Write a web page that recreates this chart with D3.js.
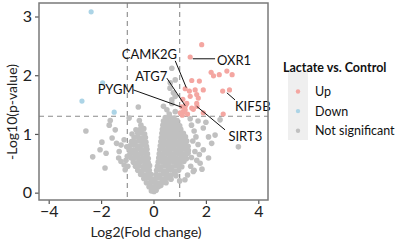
<!DOCTYPE html>
<html>
<head>
<meta charset="utf-8">
<script src="https://cdn.jsdelivr.net/npm/d3@7"></script>
<style>
  body { margin: 0; background: #fff; }
  svg { display: block; font-family: Lato, "Open Sans", sans-serif; }
</style>
</head>
<body>
<svg id="chart" width="400" height="244"></svg>
<script>
// log2 fold change / -log10 p for each protein
const notSig = [
  [-0.08, 0.03], [0.02, 0.02], [0.1, 0.04],
  [-0.17, 0.1], [-0.05, 0.09], [0.07, 0.11], [0.18, 0.1], [0.28, 0.12],
  [-0.27, 0.17], [-0.14, 0.16], [-0.02, 0.18], [0.11, 0.17], [0.24, 0.16], [0.37, 0.18], [0.48, 0.17],
  [-0.37, 0.24], [-0.23, 0.25], [-0.1, 0.23], [0.07, 0.24], [0.2, 0.25], [0.33, 0.23], [0.46, 0.24], [0.58, 0.25], [0.67, 0.23],
  [-0.49, 0.31], [-0.35, 0.3], [-0.21, 0.32], [-0.09, 0.31], [0.1, 0.31], [0.24, 0.3], [0.38, 0.32], [0.52, 0.31], [0.66, 0.3], [0.8, 0.32], [0.86, 0.29],
  [-0.6, 0.38], [-0.45, 0.37], [-0.3, 0.39], [-0.16, 0.38], [0.12, 0.38], [0.26, 0.39], [0.4, 0.37], [0.54, 0.38], [0.68, 0.39], [0.82, 0.37], [0.96, 0.38],
  [-0.69, 0.45], [-0.55, 0.46], [-0.41, 0.44], [-0.27, 0.45], [-0.15, 0.46], [0.15, 0.45], [0.29, 0.44], [0.43, 0.46], [0.57, 0.45], [0.71, 0.44], [0.85, 0.46], [0.98, 0.45], [1.08, 0.44],
  [-0.77, 0.52], [-0.63, 0.51], [-0.49, 0.53], [-0.34, 0.52], [-0.2, 0.51], [0.18, 0.52], [0.32, 0.53], [0.46, 0.51], [0.6, 0.52], [0.74, 0.53], [0.88, 0.51], [1.02, 0.52], [1.16, 0.53],
  [-0.85, 0.59], [-0.71, 0.6], [-0.56, 0.58], [-0.42, 0.59], [-0.28, 0.6], [-0.2, 0.58], [0.2, 0.59], [0.34, 0.6], [0.48, 0.58], [0.62, 0.59], [0.76, 0.6], [0.9, 0.58], [1.04, 0.59], [1.17, 0.6], [1.26, 0.58],
  [-0.9, 0.66], [-0.76, 0.67], [-0.62, 0.65], [-0.48, 0.66], [-0.34, 0.67], [-0.23, 0.66], [0.22, 0.66], [0.36, 0.65], [0.5, 0.67], [0.64, 0.66], [0.78, 0.65], [0.92, 0.67], [1.06, 0.66], [1.2, 0.65], [1.32, 0.67],
  [-0.92, 0.73], [-0.78, 0.72], [-0.64, 0.74], [-0.5, 0.73], [-0.37, 0.72], [-0.25, 0.74], [0.24, 0.73], [0.38, 0.74], [0.52, 0.72], [0.66, 0.73], [0.8, 0.74], [0.94, 0.72], [1.08, 0.73], [1.22, 0.74], [1.33, 0.72],
  [-0.9, 0.8], [-0.76, 0.81], [-0.62, 0.79], [-0.48, 0.8], [-0.36, 0.81], [-0.27, 0.79], [0.26, 0.8], [0.4, 0.81], [0.54, 0.79], [0.68, 0.8], [0.82, 0.81], [0.96, 0.79], [1.1, 0.8], [1.23, 0.81], [1.32, 0.79],
  [-0.84, 0.87], [-0.7, 0.86], [-0.56, 0.88], [-0.42, 0.87], [-0.29, 0.86], [0.28, 0.87], [0.42, 0.88], [0.56, 0.86], [0.7, 0.87], [0.84, 0.88], [0.98, 0.86], [1.12, 0.87], [1.27, 0.88],
  [-0.74, 0.94], [-0.6, 0.95], [-0.45, 0.93], [-0.31, 0.94], [0.3, 0.94], [0.44, 0.95], [0.58, 0.93], [0.72, 0.94], [0.86, 0.95], [1.0, 0.93], [1.12, 0.94], [1.22, 0.95],
  [-0.6, 1.01], [-0.46, 1.02], [-0.34, 1.0], [0.32, 1.01], [0.46, 1.02], [0.6, 1.0], [0.74, 1.01], [0.88, 1.02], [1.02, 1.0], [1.14, 1.01],
  [-0.5, 1.08], [-0.37, 1.09], [0.34, 1.08], [0.48, 1.09], [0.62, 1.07], [0.76, 1.08], [0.9, 1.09], [1.04, 1.08],
  [0.36, 1.15], [0.5, 1.16], [0.64, 1.14], [0.78, 1.15], [0.92, 1.16], [1.0, 1.14],
  [0.38, 1.22], [0.52, 1.23], [0.66, 1.21], [0.8, 1.22], [0.9, 1.23],
  [0.45, 1.28], [0.62, 1.29], [0.78, 1.27],
  [0.7, 2.12], [0.83, 1.92], [0.63, 1.78], [0.64, 1.87], [0.76, 1.7], [0.83, 1.64], [0.7, 1.58],
  [0.7, 1.52], [0.51, 1.41], [0.83, 1.38], [0.38, 1.47], [0.6, 1.34],
  [-0.58, 1.46], [-0.93, 1.27], [-0.54, 1.23], [-0.48, 1.15], [-0.67, 1.07], [-0.82, 1.0],
  [-1.69, 1.15], [-1.65, 1.23], [-1.46, 1.07], [-2.58, 1.05], [-1.58, 0.93], [-1.97, 0.86],
  [-2.04, 0.73], [-2.32, 0.61], [-1.81, 0.67], [-1.85, 0.42], [-1.41, 0.84], [-1.24, 0.81],
  [-1.31, 0.7], [-1.33, 0.59], [-1.24, 0.53], [-1.12, 0.47], [-1.08, 0.39], [-1.12, 0.9],
  [-1.02, 0.78], [-1.0, 0.62], [-1.05, 0.55], [-0.98, 0.45],
  [1.45, 1.15], [1.55, 1.05], [1.62, 0.95], [1.5, 0.88], [1.7, 0.82], [1.58, 0.7], [1.75, 0.65],
  [1.45, 0.6], [1.65, 0.55], [1.42, 0.45], [1.55, 0.38], [1.3, 0.3], [1.2, 0.22], [1.0, 0.2],
  [1.9, 0.73], [2.1, 0.95], [2.22, 0.84], [2.35, 0.98], [2.1, 0.59], [1.78, 0.5], [1.52, 0.36],
  [2.54, 1.24], [3.24, 0.78], [1.9, 1.1], [2.0, 1.2], [1.7, 1.22], [1.4, 1.26], [1.85, 0.4]
]

const down = [[-2.38, 3.08], [-1.94, 1.87], [-2.73, 1.56], [-1.5, 1.37]]

const up = [
  [1.84, 2.52], [1.4, 2.31], [2.2, 2.05], [2.29, 1.99], [2.51, 2.01], [2.8, 2.07], [3.0, 2.01],
  [2.64, 1.73], [2.9, 1.75], [1.46, 1.91], [1.75, 1.9], [1.21, 1.77], [1.37, 1.73], [1.59, 1.75],
  [1.9, 1.75], [1.65, 1.67], [1.71, 1.61], [1.4, 1.64], [1.12, 1.59], [1.27, 1.52], [1.08, 1.46],
  [1.21, 1.41], [1.22, 1.48], [1.46, 1.44], [1.66, 1.47], [2.66, 1.34], [1.52, 1.42], [1.14, 1.38],
  [1.02, 1.36], [1.65, 1.52], [1.3, 1.34], [1.9, 1.36], [1.1, 1.32]
]

// labelled proteins: point, label anchor and leader start (data units)
const genes = ['CAMK2G', 'OXR1', 'ATG7', 'PYGM', 'KIF5B', 'SIRT3']
const genePoint = [[1.25, 1.79], [1.5, 2.28], [1.21, 1.48], [1.08, 1.455], [2.8, 1.7], [1.65, 1.47]]
const geneLabel = [[-1.21, 2.36], [2.42, 2.26], [-0.7, 1.98], [-2.13, 1.77], [3.11, 1.48], [2.86, 0.97]]
const geneLead = [[0.83, 2.245], [2.35, 2.28], [0.51, 1.95], [-0.77, 1.75], [3.11, 1.58], [2.73, 1.07]]

const xTicks = [-4, -2, 0, 2, 4]
const yTicks = [0, 1, 2, 3]
const fcCut = [-1, 1]
const pCut = -Math.log10(0.05)

const groups = ['Up', 'Down', 'Not significant']
const groupColors = ['#f4a6a1', '#acd4e6', '#c0c0c0']

const svg = d3.select('#chart')
const panel = { left: 39, top: 3, right: 268, bottom: 200 }

const x = d3.scaleLinear().domain([-4.37, 4.37]).range([panel.left, panel.right])
const y = d3.scaleLinear().domain([-0.125, 3.23]).range([panel.bottom, panel.top])
const color = d3.scaleOrdinal().domain(groups).range(groupColors)

// axes
const xAxis = d3.axisBottom(x).tickValues(xTicks).tickSize(4).tickPadding(2).tickFormat(d => d < 0 ? '\u2212' + Math.abs(d) : d)
const yAxis = d3.axisLeft(y).tickValues(yTicks).tickSize(4).tickPadding(3).tickFormat(d3.format('d'))

svg.append('g')
  .attr('transform', `translate(0,${panel.bottom})`)
  .call(xAxis)
  .call(g => g.select('.domain').remove())
  .call(g => g.selectAll('line').attr('stroke', '#555').attr('stroke-width', 1.2))
  .call(g => g.selectAll('text').attr('fill', '#222').style('font-size', '16px').style('font-family', 'Lato, sans-serif'))

svg.append('g')
  .attr('transform', `translate(${panel.left},0)`)
  .call(yAxis)
  .call(g => g.select('.domain').remove())
  .call(g => g.selectAll('line').attr('stroke', '#555').attr('stroke-width', 1.2))
  .call(g => g.selectAll('text').attr('fill', '#222').style('font-size', '16px').style('font-family', 'Lato, sans-serif'))

// thresholds
const plot = svg.append('g')

plot.selectAll('.vcut').data(fcCut).join('line')
  .attr('x1', d => x(d)).attr('x2', d => x(d))
  .attr('y1', panel.top).attr('y2', panel.bottom)
  .attr('stroke', '#8a8a8a').attr('stroke-width', 1.1).attr('stroke-dasharray', '5,4')

plot.append('line')
  .attr('x1', panel.left).attr('x2', panel.right)
  .attr('y1', y(pCut)).attr('y2', y(pCut))
  .attr('stroke', '#8a8a8a').attr('stroke-width', 1.1).attr('stroke-dasharray', '5,4')

// points
const drawPoints = (data, group, r) => {
  plot.append('g').selectAll('circle').data(data).join('circle')
    .attr('cx', d => x(d[0]))
    .attr('cy', d => y(d[1]))
    .attr('r', r)
    .attr('fill', color(group))
}
drawPoints(notSig, 'Not significant', 2.8)
drawPoints(down, 'Down', 2.6)
drawPoints(up, 'Up', 2.6)

// labels
genes.forEach((g, i) => {
  plot.append('line')
    .attr('x1', x(geneLead[i][0])).attr('y1', y(geneLead[i][1]))
    .attr('x2', x(genePoint[i][0])).attr('y2', y(genePoint[i][1]))
    .attr('stroke', '#111').attr('stroke-width', 1)
  plot.append('text')
    .attr('x', x(geneLabel[i][0])).attr('y', y(geneLabel[i][1]))
    .attr('dominant-baseline', 'central')
    .style('font-size', '13px')
    .attr('fill', '#111')
    .text(g)
})

// panel border
svg.append('rect')
  .attr('x', panel.left).attr('y', panel.top)
  .attr('width', panel.right - panel.left).attr('height', panel.bottom - panel.top)
  .attr('fill', 'none').attr('stroke', '#7a7a7a').attr('stroke-width', 1.5)

// axis titles
svg.append('text')
  .attr('x', 146).attr('y', 231)
  .attr('text-anchor', 'middle').attr('dominant-baseline', 'central')
  .style('font-size', '14px').attr('fill', '#222')
  .text('Log2(Fold change)')

svg.append('text')
  .attr('transform', 'translate(11,112) rotate(-90)')
  .attr('text-anchor', 'middle').attr('dominant-baseline', 'central')
  .style('font-size', '14px').attr('fill', '#222')
  .text('-Log10(p-value)')

// legend
const legend = svg.append('g')
legend.append('text')
  .attr('x', 283).attr('y', 67)
  .attr('dominant-baseline', 'central')
  .style('font-size', '12.5px').style('font-weight', 'bold').attr('fill', '#111')
  .text('Lactate vs. Control')
legend.append('rect')
  .attr('x', 288).attr('y', 72).attr('width', 20).attr('height', 68)
  .attr('fill', '#efefef')
groups.forEach((g, i) => {
  legend.append('circle')
    .attr('cx', 298).attr('cy', 91.5 + i * 19.6).attr('r', 2.2)
    .attr('fill', color(g))
  legend.append('text')
    .attr('x', 315).attr('y', 91.5 + i * 19.6)
    .attr('dominant-baseline', 'central')
    .style('font-size', '12.5px').attr('fill', '#111')
    .text(g)
})
</script>
</body>
</html>
